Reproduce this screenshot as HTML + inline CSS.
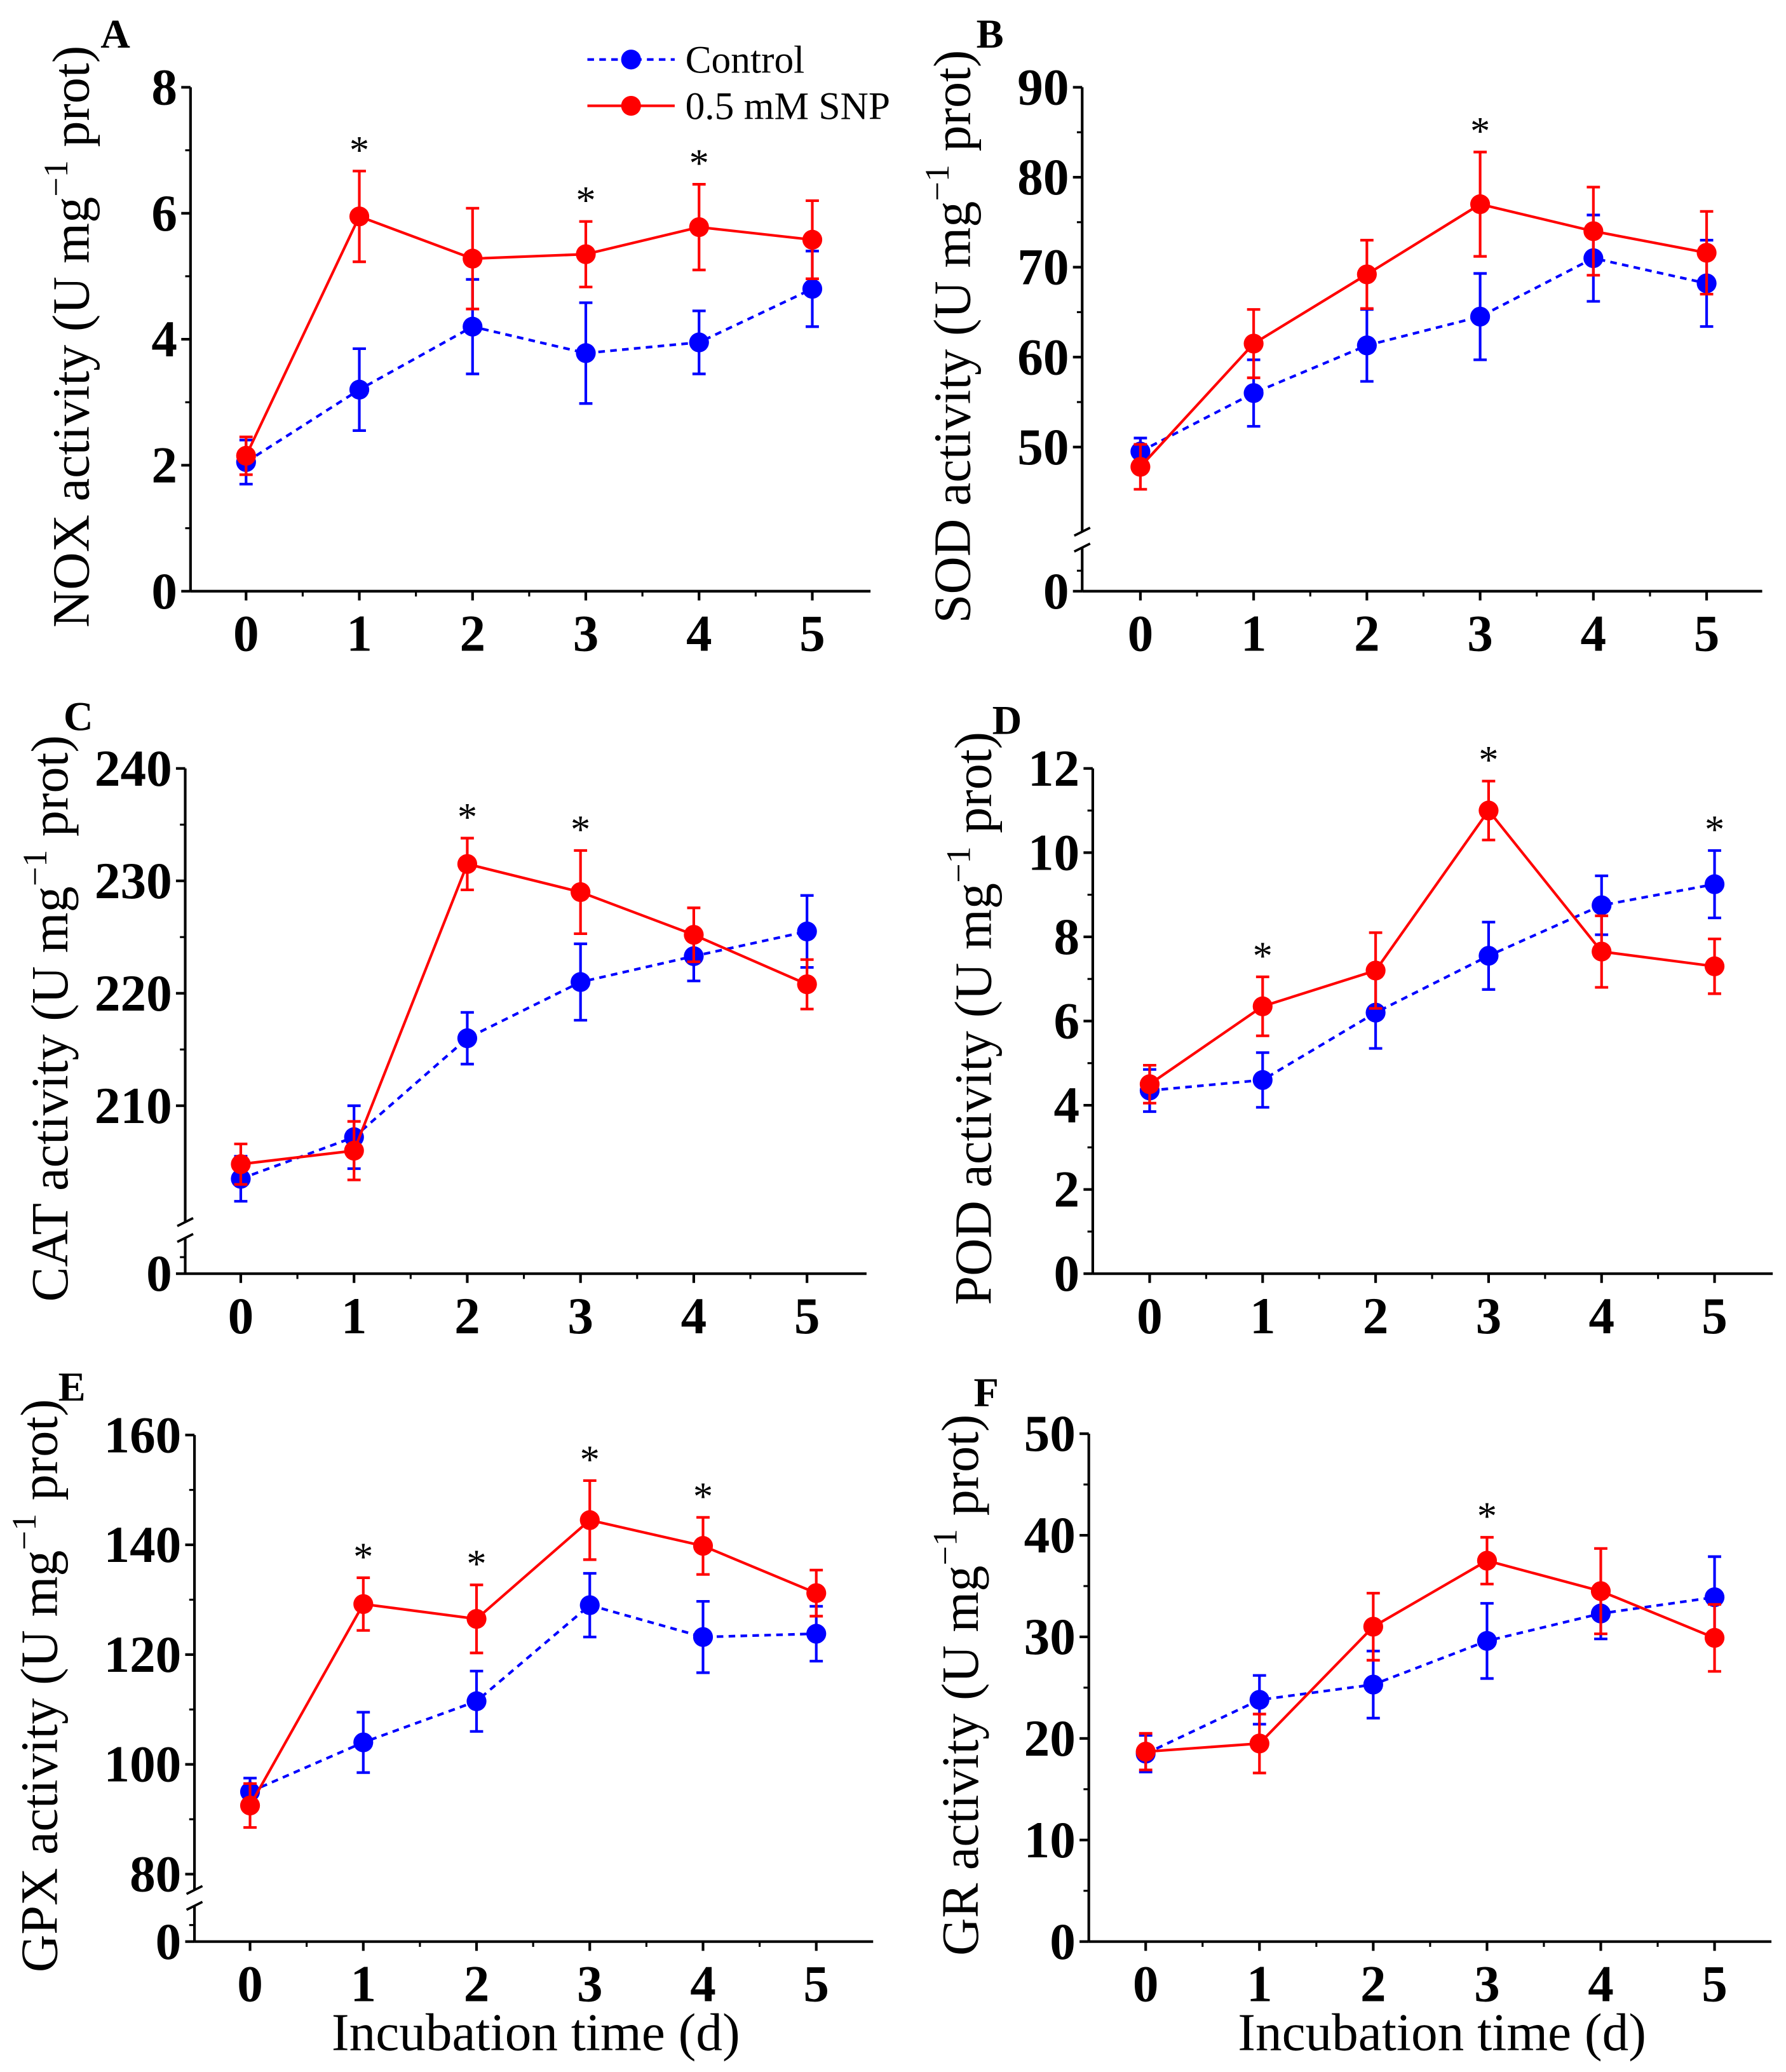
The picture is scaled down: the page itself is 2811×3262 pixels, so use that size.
<!DOCTYPE html>
<html><head><meta charset="utf-8"><style>
html,body{margin:0;padding:0;background:#fff;}
svg{display:block;font-family:"Liberation Serif",serif;}
</style></head><body>
<svg id="fig" width="2811" height="3262" viewBox="0 0 1350 1566.6" preserveAspectRatio="none" xmlns="http://www.w3.org/2000/svg">
<g>
<line x1="444" y1="45" x2="510" y2="45" stroke="#0000ff" stroke-width="2" stroke-dasharray="5,4"/>
<circle cx="477" cy="45" r="7.5" fill="#0000ff"/>
<text x="518" y="55" font-size="29.5">Control</text>
<line x1="444" y1="80" x2="510" y2="80" stroke="#ff0000" stroke-width="2"/>
<circle cx="477" cy="80" r="7.5" fill="#ff0000"/>
<text x="518" y="90" font-size="29.5">0.5 mM SNP</text>
</g>
<text x="405" y="1550" font-size="40" text-anchor="middle">Incubation time (d)</text>
<text x="1090" y="1550" font-size="40" text-anchor="middle">Incubation time (d)</text>
</svg>
<script>
const days = [0,1,2,3,4,5];
const noxCtrl = [2.05,3.2,4.2,3.78,3.95,4.8];
const noxCtrlErr = [0.35,0.65,0.75,0.8,0.5,0.6];
const noxSnp = [2.15,5.95,5.28,5.35,5.78,5.58];
const noxSnpErr = [0.3,0.72,0.8,0.52,0.68,0.62];
const noxStars = [1,3,4];
const sodCtrl = [49.5,56,61.3,64.5,71,68.2];
const sodCtrlErr = [1.5,3.7,4,4.8,4.8,4.8];
const sodSnp = [47.8,61.5,69.2,77,74,71.6];
const sodSnpErr = [2.5,3.8,3.8,5.8,4.9,4.6];
const sodStars = [3];
const catCtrl = [203.5,207.2,216,221,223.3,225.5];
const catCtrlErr = [2,2.8,2.3,3.4,2.2,3.2];
const catSnp = [204.8,206,231.5,229,225.2,220.8];
const catSnpErr = [1.8,2.6,2.3,3.7,2.4,2.2];
const catStars = [2,3];
const podCtrl = [4.35,4.6,6.2,7.55,8.75,9.25];
const podCtrlErr = [0.5,0.65,0.85,0.8,0.7,0.8];
const podSnp = [4.5,6.35,7.2,11,7.65,7.3];
const podSnpErr = [0.45,0.7,0.9,0.7,0.85,0.65];
const podStars = [1,3,5];
const gpxCtrl = [95,104,111.5,129,123.2,123.8];
const gpxCtrlErr = [2.5,5.5,5.5,5.8,6.5,5];
const gpxSnp = [92.5,129.2,126.5,144.5,139.8,131.2];
const gpxSnpErr = [4,4.8,6.2,7.2,5.2,4.2];
const gpxStars = [1,2,3,4];
const grCtrl = [18.5,23.8,25.3,29.6,32.3,33.9];
const grCtrlErr = [1.8,2.4,3.3,3.7,2.5,4];
const grSnp = [18.7,19.5,31,37.5,34.5,29.9];
const grSnpErr = [1.8,2.9,3.3,2.3,4.2,3.3];
const grStars = [3];
const noxTicks = [0,2,4,6,8];
const sodTicks = [50,60,70,80,90];
const catTicks = [210,220,230,240];
const podTicks = [0,2,4,6,8,10,12];
const gpxTicks = [80,100,120,140,160];
const grTicks = [0,10,20,30,40,50];

const NS="http://www.w3.org/2000/svg";
const svg=document.getElementById('fig');
function mk(tag,attrs,parent){const e=document.createElementNS(NS,tag);for(const k in attrs)e.setAttribute(k,attrs[k]);(parent||svg).appendChild(e);return e;}

const panels=[
 {id:'a',letter:'A',lx:76,ly:36,ax:144,ay:447,x0:186,x5:614,xr:658,lo:0,hi:8,top:66,brk:null,ticks:noxTicks,minor:1,title:'NOX',tx:54,c:noxCtrl,ce:noxCtrlErr,s:noxSnp,se:noxSnpErr,st:noxStars},
 {id:'b',letter:'B',lx:738,ly:36,ax:818,ay:447,x0:862,x5:1290,xr:1332,lo:50,hi:90,top:66,bot:338,brk:408,ticks:sodTicks,minor:5,title:'SOD',tx:720,c:sodCtrl,ce:sodCtrlErr,s:sodSnp,se:sodSnpErr,st:sodStars},
 {id:'c',letter:'C',lx:48,ly:552,ax:140,ay:963,x0:182,x5:610,xr:655,lo:210,hi:240,top:581,bot:836,brk:930,ticks:catTicks,minor:5,title:'CAT',tx:38,c:catCtrl,ce:catCtrlErr,s:catSnp,se:catSnpErr,st:catStars},
 {id:'d',letter:'D',lx:750,ly:555,ax:826,ay:963,x0:869,x5:1296,xr:1340,lo:0,hi:12,top:581,brk:null,ticks:podTicks,minor:1,title:'POD',tx:736,c:podCtrl,ce:podCtrlErr,s:podSnp,se:podSnpErr,st:podStars},
 {id:'e',letter:'E',lx:44,ly:1059,ax:147,ay:1468,x0:189,x5:617,xr:660,lo:80,hi:160,top:1085,bot:1417,brk:1435,ticks:gpxTicks,minor:10,title:'GPX',tx:30,c:gpxCtrl,ce:gpxCtrlErr,s:gpxSnp,se:gpxSnpErr,st:gpxStars},
 {id:'f',letter:'F',lx:736,ly:1063,ax:823,ay:1468,x0:866,x5:1296,xr:1339,lo:0,hi:50,top:1084,brk:null,ticks:grTicks,minor:5,title:'GR',tx:726,c:grCtrl,ce:grCtrlErr,s:grSnp,se:grSnpErr,st:grStars}
];

panels.forEach(p=>{
 const g=mk('g',{});
 
 
 const bot = p.brk? p.bot : p.ay;
 const X=d=>p.x0+(p.x5-p.x0)*d/5;
 const Y=v=>bot-(v-p.lo)/(p.hi-p.lo)*(bot-p.top);
 const L=mk('text',{x:p.lx,y:p.ly,'font-size':31,'font-weight':'bold'},g);L.textContent=p.letter;
 
 
 if(p.brk){
  mk('line',{x1:p.ax,y1:p.top,x2:p.ax,y2:p.brk-6,stroke:'#000','stroke-width':2},g);
  mk('line',{x1:p.ax,y1:p.brk+6,x2:p.ax,y2:p.ay,stroke:'#000','stroke-width':2},g);
  mk('line',{x1:p.ax-6,y1:p.brk-3,x2:p.ax+6,y2:p.brk-9,stroke:'#000','stroke-width':1.8},g);
  mk('line',{x1:p.ax-6,y1:p.brk+9,x2:p.ax+6,y2:p.brk+3,stroke:'#000','stroke-width':1.8},g);
 } else mk('line',{x1:p.ax,y1:p.top,x2:p.ax,y2:p.ay,stroke:'#000','stroke-width':2},g);
 const xa=mk('line',{x1:p.ax,y1:p.ay,x2:p.xr,y2:p.ay,stroke:'#000','stroke-width':2},g);
 
 
 const yt=p.brk? [0].concat(p.ticks):p.ticks;
 yt.forEach(v=>{
  const y = (p.brk && v===0)? p.ay : Y(v);
  mk('line',{x1:p.ax-7,y1:y,x2:p.ax,y2:y,stroke:'#000','stroke-width':2},g);
  const t=mk('text',{x:p.ax-10,y:y+13,'font-size':39,'font-weight':'bold','text-anchor':'end'},g);t.textContent=v;
  
  
 });
 for(let v=p.lo+p.minor; v<p.hi; v+=2*p.minor){
  mk('line',{x1:p.ax-4,y1:Y(v),x2:p.ax,y2:Y(v),stroke:'#000','stroke-width':1.5},g);
 }
 if(p.brk){ mk('line',{x1:p.ax-4,y1:(p.brk+p.ay)/2+4,x2:p.ax,y2:(p.brk+p.ay)/2+4,stroke:'#000','stroke-width':1.5},g); }
 days.forEach(d=>{
  mk('line',{x1:X(d),y1:p.ay,x2:X(d),y2:p.ay+7,stroke:'#000','stroke-width':2},g);
  if(d<5) mk('line',{x1:X(d+0.5),y1:p.ay,x2:X(d+0.5),y2:p.ay+4,stroke:'#000','stroke-width':1.5},g);
  const t=mk('text',{x:X(d),y:p.ay+45,'font-size':39,'font-weight':'bold','text-anchor':'middle'},g);t.textContent=d;
  
  
 });
 const cy=(p.top+p.ay)/2-2;
 const tt=mk('text',{x:0,y:0,'font-size':39.5,'text-anchor':'middle',transform:`translate(${p.tx+13},${cy}) rotate(-90)`},g);
 
 
 tt.innerHTML=p.title+' activity (U mg<tspan dy="-16" font-size="26">\u22121</tspan><tspan dy="16"> prot)</tspan>';
 [[p.c,p.ce,'#0000ff','5,4','control'],[p.s,p.se,'#ff0000',null,'snp']].forEach(([vals,errs,col,dash,nm])=>{
  const sg=mk('g',{},g);
  
  
  vals.forEach((v,i)=>{
   const x=X(days[i]),y1=Y(v-errs[i]),y2=Y(v+errs[i]);
   mk('line',{x1:x,y1:y1,x2:x,y2:y2,stroke:col,'stroke-width':2},sg);
   mk('line',{x1:x-5,y1:y1,x2:x+5,y2:y1,stroke:col,'stroke-width':2},sg);
   mk('line',{x1:x-5,y1:y2,x2:x+5,y2:y2,stroke:col,'stroke-width':2},sg);
  });
  const pts=vals.map((v,i)=>X(days[i])+','+Y(v)).join(' ');
  const pl=mk('polyline',{points:pts,fill:'none',stroke:col,'stroke-width':2},sg);
  if(dash)pl.setAttribute('stroke-dasharray',dash);
  vals.forEach((v,i)=>{
   const c=mk('circle',{cx:X(days[i]),cy:Y(v),r:7.5,fill:col},sg);
   
   
  });
 });
 p.st.forEach(d=>{
  const top=Math.min(Y(p.s[d]+p.se[d]),Y(p.c[d]+p.ce[d]));
  const t=mk('text',{x:X(d),y:top-6,'font-size':30,'text-anchor':'middle'},g);t.textContent='*';
  
  
 });
});
</script>
</body></html>
